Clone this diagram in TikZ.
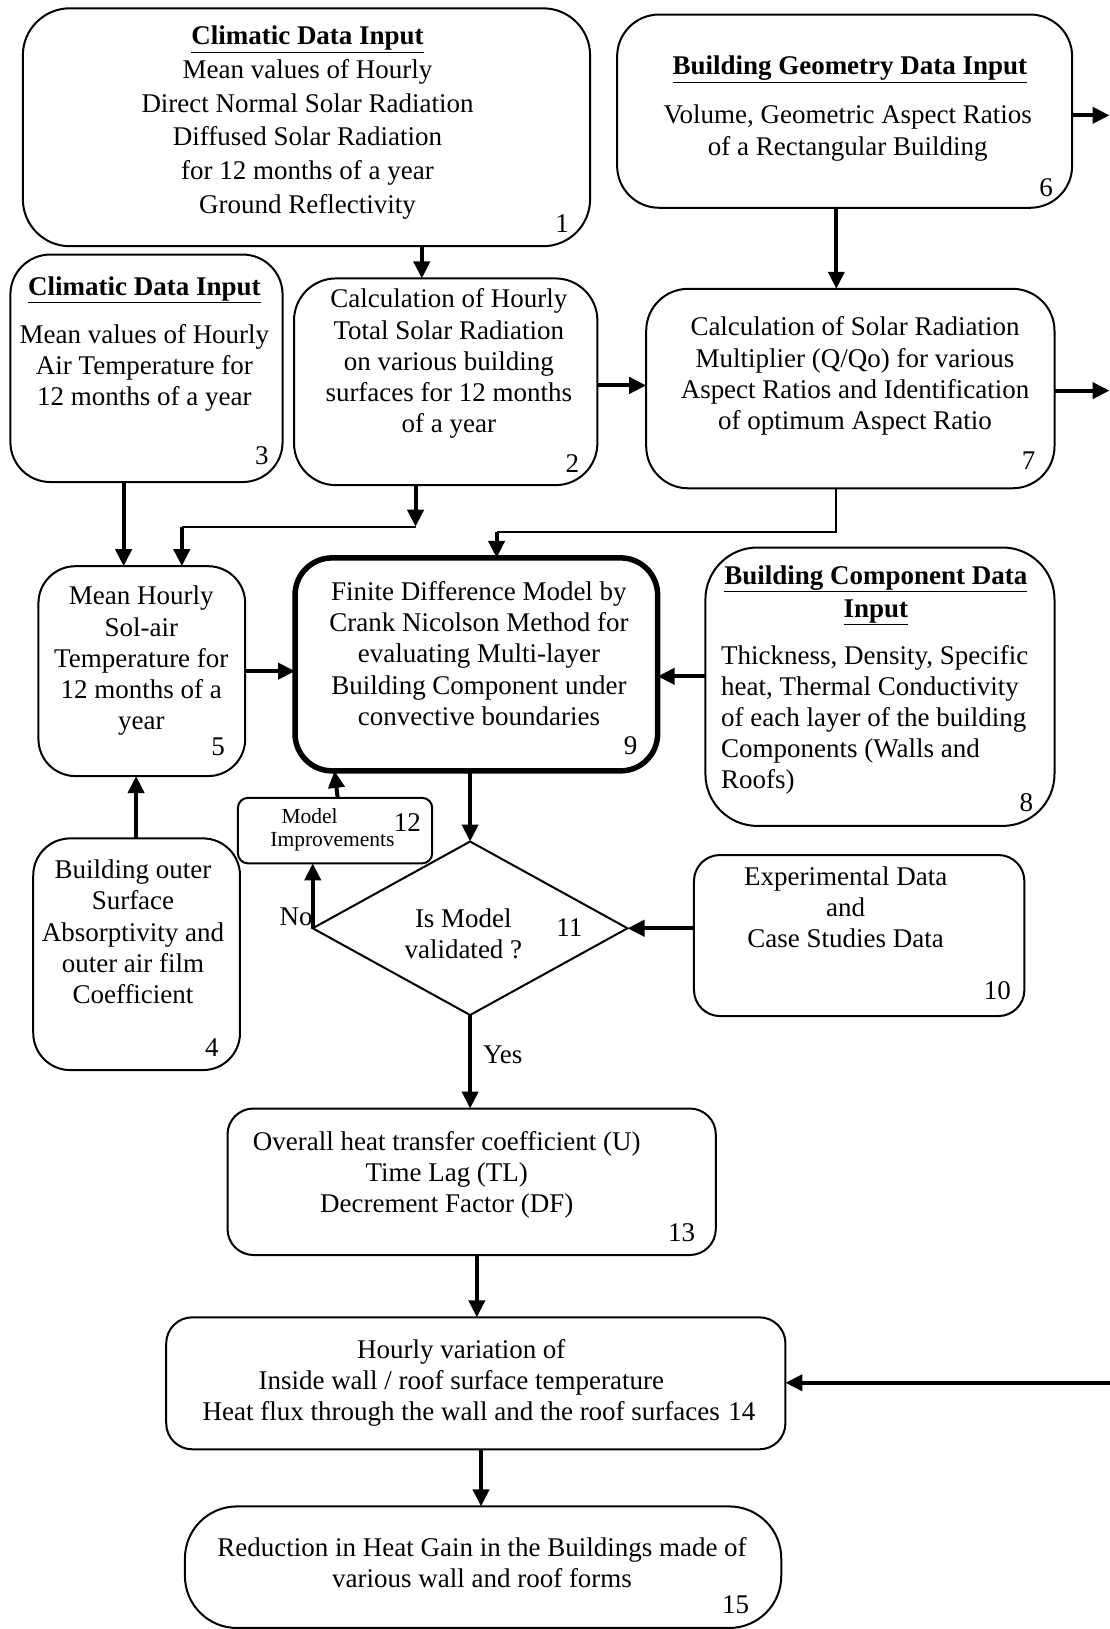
\documentclass[tikz,border=0pt]{standalone}
\usepackage{fontspec}
\setmainfont{Liberation Serif}
\usetikzlibrary{shapes.geometric,arrows.meta,calc}
\begin{document}
\begin{tikzpicture}[x=1.0393pt,y=-1.0393pt,
 box/.style={draw, line width=2pt, inner sep=0pt, outer sep=0pt},
 sz/.style 2 args={minimum width=#1*1.0393pt, minimum height=#2*1.0393pt},
 txt/.style={align=center, inner sep=0pt, font=\fontsize{27}{31.2}\selectfont},
 num/.style={inner sep=0pt, font=\fontsize{27}{31.2}\selectfont},
 arr/.style={line width=4pt, -{Triangle[length=17pt,width=16pt]}},
 thinln/.style={line width=2pt},
]
\useasboundingbox (0,0) rectangle (1068,1568);

% boxes
\node[box, sz={546}{229}, rounded corners=47pt] (b1) at (295,122.5) {};
\node[box, sz={438}{186}, rounded corners=42pt] (b6) at (813,107) {};
\node[box, sz={262}{219}, rounded corners=40pt] (b3) at (141,354.5) {};
\node[box, sz={292}{199}, rounded corners=42pt] (b2) at (429,367.5) {};
\node[box, sz={393}{192}, rounded corners=42pt] (b7) at (818.5,374) {};
\node[box, sz={199}{202}, rounded corners=37pt] (b5) at (136.5,646) {};
\node[box, line width=5.5pt, sz={349}{205}, rounded corners=37pt] (b9) at (458.5,639.5) {};
\node[box, sz={336}{268}, rounded corners=52pt] (b8) at (847,661) {};
\node[box, sz={187}{63}, rounded corners=10pt] (b12) at (322.5,799.5) {};
\node[box, diamond, sz={303}{167}] (d11) at (452.5,893.5) {};
\node[box, sz={318}{155}, rounded corners=26pt] (b10) at (827,900.5) {};
\node[box, sz={199}{223}, rounded corners=37pt] (b4) at (131.5,918.5) {};
\node[box, sz={470}{141}, rounded corners=26pt] (b13) at (454,1137.5) {};
\node[box, sz={596}{127}, rounded corners=26pt] (b14) at (458,1331.5) {};
\node[box, sz={574}{117}, rounded corners=52pt] (b15) at (465,1508.5) {};

% texts
\node[txt, font=\fontsize{27}{33.7}\selectfont] (t1) at (296,118) {\underline{\textbf{Climatic Data Input}}\\Mean values of Hourly\\Direct Normal Solar Radiation\\Diffused Solar Radiation\\for 12 months of a year\\Ground Reflectivity};
\node[txt] (t6a) at (818,67) {\underline{\textbf{Building Geometry Data Input}}};
\node[txt] (t6) at (816,128) {Volume, Geometric Aspect Ratios\\of a Rectangular Building};
\node[txt] (t3a) at (139,279) {\underline{\textbf{Climatic Data Input}}};
\node[txt] (t3) at (139,354) {Mean values of Hourly\\Air Temperature for\\12 months of a year};
\node[txt] (t2) at (432,350) {Calculation of Hourly\\Total Solar Radiation\\on various building\\surfaces for 12 months\\of a year};
\node[txt] (t7) at (823,362) {Calculation of Solar Radiation\\Multiplier (Q/Qo) for various\\Aspect Ratios and Identification\\of optimum Aspect Ratio};
\node[txt] (t5) at (136,636) {Mean Hourly\\Sol-air\\Temperature for\\12 months of a\\year};
\node[txt] (t9) at (461,629) {Finite Difference Model by\\Crank Nicolson Method for\\evaluating Multi-layer\\Building Component under\\convective boundaries};
\node[txt, font=\fontsize{27}{33}\selectfont] (t8a) at (843,573) {\underline{\textbf{Building Component Data}}\\\underline{\textbf{Input}}};
\node[txt, align=left, anchor=west] (t8) at (694,693) {Thickness, Density, Specific\\heat, Thermal Conductivity\\of each layer of the building\\Components (Walls and\\Roofs)};
\node[txt, font=\fontsize{21.5}{25}\selectfont] (t12a) at (298,786) {Model};
\node[txt, font=\fontsize{21.5}{25}\selectfont] (t12b) at (320,810) {Improvements};
\node[txt] (t11) at (446,899) {Is Model\\validated ?};
\node[txt] (t10) at (814,873) {Experimental Data\\and\\Case Studies Data};
\node[txt] (t4) at (128,897) {Building outer\\Surface\\Absorptivity and\\outer air film\\Coefficient};
\node[txt] (t13) at (430,1131) {Overall heat transfer coefficient (U)\\Time Lag (TL)\\Decrement Factor (DF)};
\node[txt] (t14) at (444,1331) {Hourly variation of\\Inside wall / roof surface temperature\\Heat flux through the wall and the roof surfaces};
\node[txt] (t15) at (464,1504) {Reduction in Heat Gain in the Buildings made of\\various wall and roof forms};

% numbers
\node[num] (n1) at (541,215) {1};
\node[num] (n6) at (1007,181) {6};
\node[num] (n3) at (252,439) {3};
\node[num] (n2) at (551,446) {2};
\node[num] (n7) at (990,443) {7};
\node[num] (n5) at (210,719) {5};
\node[num] (n9) at (607,718) {9};
\node[num] (n8) at (988,773) {8};
\node[num] (n12) at (392,792) {12};
\node[num] (n11) at (548,893) {11};
\node[num] (n10) at (960,954) {10};
\node[num] (n4) at (204,1008) {4};
\node[num] (n13) at (656,1187) {13};
\node[num] (n14) at (714,1359) {14};
\node[num] (n15) at (708,1545) {15};
\node[num] (no) at (285,882) {No};
\node[num] (yes) at (484,1015) {Yes};

% helper coordinates
\coordinate (x406) at (406,0);
\coordinate (x805) at (805,0);
\coordinate (x119) at (119,0);
\coordinate (x131) at (131,0);
\coordinate (x459) at (459,0);
\coordinate (x463) at (463,0);
\coordinate (y371) at (0,371);
\coordinate (y646) at (0,646);
\coordinate (y651) at (0,651);
\coordinate (j1) at (400,507);
\coordinate (j1b) at (175,507);
\coordinate (j2) at (478,512);
\coordinate (p12) at (325,0);
\coordinate (p9) at (322,0);
\coordinate (e6) at (1068,111);
\coordinate (e7) at (1068,376);
\coordinate (e14) at (1068,1331);

% connectors
\draw[arr] (b1.south -| x406) -- (b2.north -| x406);
\draw[arr] (b6.south -| x805) -- (b7.north -| x805);
\draw[arr] (b2.east |- y371) -- (b7.west |- y371);
\draw[arr] (b3.south -| x119) -- (b5.north -| x119);
\draw[arr] (b2.south -| j1) -- (j1);
\draw[thinln] (j1) -- (j1b);
\draw[arr] (j1b) -- (b5.north -| j1b);
\draw[thinln] (b7.south -| x805) -- (x805 |- j2) -- (j2);
\draw[arr] (j2) -- (b9.north -| j2);
\draw[arr] (b5.east |- y646) -- (b9.west |- y646);
\draw[arr] (b8.west |- y651) -- (b9.east |- y651);
\draw[arr] (b4.north -| x131) -- (b5.south -| x131);
\draw[arr] (b12.north -| p12) -- (b9.south -| p9);
\draw[arr] (d11.west) -- (d11.west |- b12.south);
\draw[arr] (b9.south -| d11.north) -- (d11.north);
\draw[arr] (b10.west |- d11.east) -- (d11.east);
\draw[arr] (d11.south) -- (b13.north -| d11.south);
\draw[arr] (b13.south -| x459) -- (b14.north -| x459);
\draw[arr] (b14.south -| x463) -- (b15.north -| x463);
\draw[arr] (b6.east |- e6) -- (e6);
\draw[arr] (b7.east |- e7) -- (e7);
\draw[arr] (e14) -- (b14.east |- e14);
\end{tikzpicture}
\end{document}
